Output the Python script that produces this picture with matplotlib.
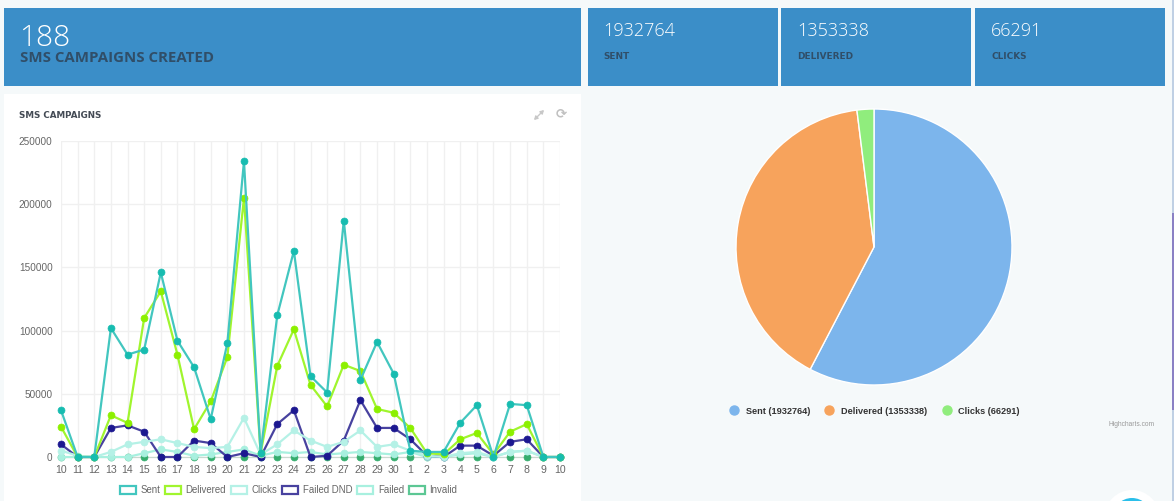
import matplotlib
matplotlib.use('Agg')
import matplotlib.pyplot as plt
from matplotlib.lines import Line2D
from matplotlib.patches import Rectangle, Patch, Circle

W, H = 1174, 501

##Chart data
days = ['10', '11', '12', '13', '14', '15', '16', '17', '18', '19', '20', '21', '22', '23', '24', '25',
        '26', '27', '28', '29', '30', '1', '2', '3', '4', '5', '6', '7', '8', '9', '10']
sent = [37000, 0, 0, 102000, 81000, 85000, 146000, 92000, 71000, 30000, 90000, 234000, 3000, 112000, 163000, 64000,
        51000, 187000, 61000, 91000, 66000, 5000, 4000, 4000, 27000, 41000, 0, 42000, 41000, 0, 0]
delivered = [24000, 0, 0, 33000, 27000, 110000, 131000, 81000, 22000, 44000, 79000, 205000, 3000, 72000, 101000, 57000,
             40000, 73000, 68000, 38000, 35000, 23000, 3000, 2000, 14000, 19000, 2000, 20000, 26000, 0, 0]
clicks = [5000, 1000, 0, 4000, 10000, 12000, 14000, 11000, 8000, 7000, 8000, 31000, 2000, 10000, 21000, 13000,
          8000, 12000, 21000, 8000, 10000, 5000, 1000, 0, 3000, 4000, 0, 4000, 5000, 0, 0]
failed_dnd = [10000, 0, 0, 23000, 25000, 20000, 0, 0, 13000, 11000, 0, 3000, 0, 26000, 37000, 0,
              1000, 13000, 45000, 23000, 23000, 14000, 1000, 0, 9000, 9000, 1000, 12000, 14000, 0, 0]
failed = [0, 0, 0, 0, 0, 3000, 6000, 4000, 1000, 2000, 4000, 6000, 1000, 4000, 3000, 4000,
          2000, 3000, 4000, 3000, 2000, 4000, 0, 0, 2000, 3000, 0, 4000, 5000, 0, 0]
invalid = [0] * 31
y_ticks = [0, 50000, 100000, 150000, 200000, 250000]

pie_labels = ['Sent (1932764)', 'Delivered (1353338)', 'Clicks (66291)']
pie_values = [1932764, 1353338, 66291]
pie_colors = ['#7cb5ec', '#f7a35c', '#90ed7d']

tile_numbers = ['1932764', '1353338', '66291']
tile_names = ['SENT', 'DELIVERED', 'CLICKS']


def px_axes(x0, y0, x1, y1):
    return fig.add_axes([x0 / W, 1 - y1 / H, (x1 - x0) / W, (y1 - y0) / H])


fig = plt.figure(figsize=(W / 100, H / 100), dpi=100, facecolor='#f5f9fa')

##Background layer in pixel coordinates
bg = fig.add_axes([0, 0, 1, 1])
bg.set_xlim(0, W)
bg.set_ylim(H, 0)
bg.axis('off')

blue = '#3b8ec8'
dark = '#304e68'
bg.add_patch(Rectangle((4, 8), 577, 78, color=blue, lw=0))
for x0, x1 in [(588, 778), (781, 971), (975, 1165)]:
    bg.add_patch(Rectangle((x0, 8), x1 - x0, 78, color=blue, lw=0))
bg.add_patch(Rectangle((4, 94), 577, 407, color='white', lw=0))

bg.text(19, 38, '188', color='white', fontsize=21.5, family='Open Sans', fontweight='light', va='center')
bg.text(20, 58, 'SMS CAMPAIGNS CREATED', color=dark, fontsize=10.8, family='Open Sans', fontweight='bold', va='center')
for x, num, name in zip([603, 797, 991], tile_numbers, tile_names):
    bg.text(x, 31, num, color='white', fontsize=13, family='Open Sans', fontweight='light', va='center')
    bg.text(x, 56, name, color=dark, fontsize=6.4, family='DejaVu Sans', fontweight='bold', va='center')

bg.text(19, 115, 'SMS CAMPAIGNS', color='#444b55', fontsize=6.3, family='DejaVu Sans', fontweight='bold', va='center')
##Expand icon has no glyph in the installed fonts, so it is a small double arrow
bg.annotate('', xy=(544, 110), xytext=(534, 120),
            arrowprops={'arrowstyle': '<|-|>,head_width=0.12,head_length=0.2', 'color': '#c8c8c8', 'lw': 1,
                        'shrinkA': 0, 'shrinkB': 0})
bg.text(561, 114, '\u27f3', color='#c0c0c0', fontsize=9.5, family='DejaVu Sans', fontweight='bold', ha='center', va='center')

bg.text(1132, 424, 'Highcharts.com', color='#999999', fontsize=4.8, family='Liberation Sans', ha='center', va='center')

##Scrollbar and chat button on the right
bg.add_patch(Rectangle((1172, 0), 2, H, color='#c0d0e4', lw=0))
bg.add_patch(Rectangle((1172, 213), 2, 197, color='#8a80c4', lw=0))
bg.add_patch(Circle((1132, 517.5), 27.5, color='white', lw=0))
bg.add_patch(Circle((1132, 517.5), 19.5, color='#2bbfea', lw=0))

##Line chart
ax = px_axes(61, 141, 560, 457)
x = list(range(len(days)))
series = [
    ('Sent', sent, '#42c6bf', '#17bcb0', 1.6),
    ('Delivered', delivered, '#a0f52e', '#8cf000', 1.6),
    ('Clicks', clicks, '#b5f1e6', '#b5f1e6', 1.6),
    ('Failed DND', failed_dnd, '#48429f', '#1c1890', 1.6),
    ('Failed', failed, '#a8f0df', '#a8f0df', 1.6),
    ('Invalid', invalid, '#c9d8d0', '#35ad6e', 0.8),
]
handles = []
legend_invalid = '#5cc794'
for i, (name, vals, line_color, marker_color, lw) in enumerate(series):
    ax.plot(x, vals, color=line_color, lw=lw, marker='o', ms=5, mfc=marker_color, mec=marker_color, mew=0.5,
            zorder=10 - i, clip_on=False)
    edge = legend_invalid if name == 'Invalid' else line_color
    handles.append(Patch(facecolor='none', edgecolor=edge, lw=1.6, label=name))

ax.set_xlim(0, len(days) - 1)
ax.set_ylim(0, 250000)
ax.set_xticks(x)
ax.set_xticklabels(days, fontsize=7.6, color='#666666', family='Liberation Sans')
ax.set_yticks(y_ticks)
ax.set_yticklabels([str(v) for v in y_ticks], fontsize=7.2, color='#666666', family='Liberation Sans')
ax.grid(True, color='#f0f0f0', lw=1)
ax.set_axisbelow(True)
ax.tick_params(axis='both', length=0, pad=6)
for side, spine in ax.spines.items():
    spine.set_visible(side == 'bottom')
    spine.set_color('#cccccc')

ax.legend(handles=handles, loc='center', bbox_to_anchor=(288.5 / W, 1 - 490 / H), bbox_transform=fig.transFigure,
          ncol=6, frameon=False, handlelength=1.65, handleheight=0.95, handletextpad=0.5, columnspacing=0.5,
          prop={'family': 'Liberation Sans', 'size': 6.9}, labelcolor='#666666')

##Pie chart
pie_ax = px_axes(736, 109, 1012, 385)
wedges, _ = pie_ax.pie(pie_values, colors=pie_colors, startangle=90, counterclock=False, radius=1,
                       wedgeprops={'edgecolor': 'white', 'linewidth': 1})
pie_ax.set_xlim(-1, 1)
pie_ax.set_ylim(-1, 1)

pie_handles = [Line2D([], [], ls='none', marker='o', ms=6.5, mfc=c, mec=c, label=lab)
               for c, lab in zip(pie_colors, pie_labels)]
fig.legend(handles=pie_handles, loc='center', bbox_to_anchor=(875 / W, 1 - 411 / H), ncol=3, frameon=False,
           handlelength=0.8, handletextpad=0.9, columnspacing=1.7,
           prop={'family': 'Liberation Sans', 'size': 6.6, 'weight': 'bold'}, labelcolor='#333333')

fig.savefig('out.png', dpi=100, facecolor=fig.get_facecolor())
